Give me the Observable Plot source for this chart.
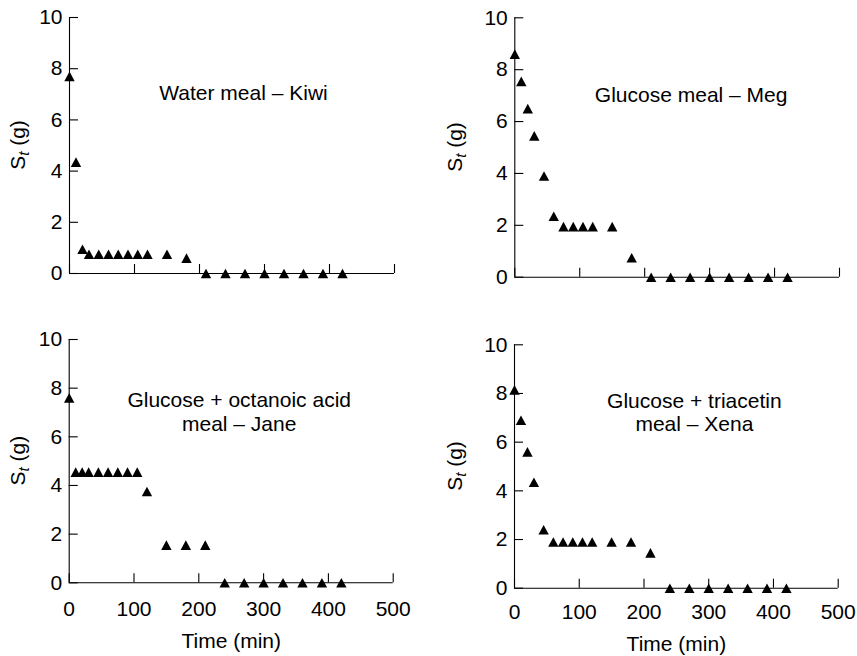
<!DOCTYPE html>
<html><head><meta charset="utf-8">
<script src="https://cdn.jsdelivr.net/npm/d3@7"></script>
<script src="https://cdn.jsdelivr.net/npm/@observablehq/plot@0.6"></script>
<style>
body{margin:0;background:#fff;}
#root{position:relative;width:857px;height:656px;overflow:hidden;font-family:"Liberation Sans",Arial,sans-serif;background:#fff;}
.panel{position:absolute;}
</style></head><body><div id="root"></div>
<script>
// ---- data ----
const times = [0,10,20,30,45,60,75,90,105,120,150,180,210,240,270,300,330,360,390,420];
const kiwi = [7.7,4.35,0.95,0.75,0.75,0.75,0.75,0.75,0.75,0.75,0.75,0.6,0,0,0,0,0,0,0,0];
const meg  = [8.6,7.55,6.5,5.45,3.9,2.35,1.95,1.95,1.95,1.95,1.95,0.75,0,0,0,0,0,0,0,0];
const jane = [7.6,4.55,4.55,4.55,4.55,4.55,4.55,4.55,4.55,3.75,1.55,1.55,1.55,0,0,0,0,0,0,0];
const xena = [8.15,6.9,5.6,4.35,2.4,1.9,1.9,1.9,1.9,1.9,1.9,1.9,1.45,0,0,0,0,0,0,0];
const titles = ["Water meal \u2013 Kiwi", "Glucose meal \u2013 Meg",
  "Glucose + octanoic acid\nmeal \u2013 Jane", "Glucose + triacetin\nmeal \u2013 Xena"];
const xTicks = [0,100,200,300,400,500];
const yTicks = [0,2,4,6,8,10];
const xLabel = "Time (min)";
const yLabelMain = "S", yLabelSub = "t", yLabelRest = " (g)";

// ---- layout (styling only) ----
const layout = [
  {series: kiwi, left: 0,   top: 0,   w: 428, h: 300, mL: 69,   mR: 34,   mT: 17,   mB: 27,   tdx: 11.5, tdy: 66,   yoff: 44,   xaxis: false},
  {series: meg,  left: 420, top: 0,   w: 437, h: 300, mL: 94.3, mR: 18,   mT: 17.3, mB: 23.3, tdx: 14,   tdy: 67.5, yoff: 52,   xaxis: false},
  {series: jane, left: 0,   top: 300, w: 420, h: 356, mL: 68.7, mR: 27.3, mT: 39,   mB: 73.7, tdx: 8,    tdy: 51.5, yoff: 43.7, xaxis: true, pad: 18.5, ldy: 50.5},
  {series: xena, left: 420, top: 300, w: 437, h: 356, mL: 94,   mR: 19.3, mT: 44.3, mB: 68.3, tdx: 18,   tdy: 46.5, yoff: 52.3, xaxis: true, pad: 15.5, ldy: 48}
];

const tri = {draw(ctx, size) {
  const r = Math.sqrt(size / Math.PI);
  const w = 1.3 * r, h = 1.2 * r;
  ctx.moveTo(0, -h); ctx.lineTo(w, h); ctx.lineTo(-w, h); ctx.closePath();
}};

const root = document.getElementById("root");
layout.forEach((L, i) => {
  const data = times.map((t, j) => ({t, v: L.series[j]}));
  const fw = L.w - L.mL - L.mR, fh = L.h - L.mT - L.mB;
  const marks = [
    Plot.ruleX([0], {stroke: "black", strokeWidth: 1.1}),
    Plot.ruleY([0], {stroke: "black", strokeWidth: 1.1}),
    Plot.tickY(yTicks, {y: d => d, insetRight: fw - 9, stroke: "black", strokeWidth: 1.1}),
    Plot.tickX(xTicks, {x: d => d, insetTop: fh - 9, stroke: "black", strokeWidth: 1.1}),
    Plot.axisY({ticks: yTicks, tickSize: 0, tickPadding: 7, label: null, fontSize: 21}),
    Plot.dot(data, {x: "t", y: "v", symbol: tri, r: 4, fill: "black", stroke: "none"}),
    Plot.text([titles[i]], {text: d => d, frameAnchor: "top", dx: L.tdx, dy: L.tdy, lineAnchor: "top", fontSize: 21, lineHeight: 1.1, fill: "black"})
  ];
  if (L.xaxis) {
    marks.push(Plot.axisX({ticks: xTicks, tickSize: 0, tickPadding: L.pad, label: null, fontSize: 21}));
    marks.push(Plot.text([xLabel], {text: d => d, frameAnchor: "bottom", dy: L.ldy, lineAnchor: "top", fontSize: 21, fill: "black"}));
  }
  const svg = Plot.plot({
    width: L.w, height: L.h,
    marginLeft: L.mL, marginRight: L.mR, marginTop: L.mT, marginBottom: L.mB,
    x: {domain: [0, 500], axis: L.xaxis ? undefined : null},
    y: {domain: [0, 10]},
    style: {fontFamily: "'Liberation Sans', Arial, sans-serif", fontSize: "21px", color: "black", background: "white", overflow: "visible"},
    marks
  });
  const cy = L.mT + fh / 2;
  const t = d3.select(svg).append("text")
    .attr("transform", `translate(${L.mL - L.yoff},${cy}) rotate(-90)`)
    .attr("text-anchor", "middle").attr("font-size", 21).attr("fill", "black")
    .attr("font-family", "'Liberation Sans', Arial, sans-serif");
  t.append("tspan").text(yLabelMain);
  t.append("tspan").attr("font-style", "italic").attr("font-size", 15).attr("dy", 4).text(yLabelSub);
  t.append("tspan").attr("dy", -4).text(yLabelRest);
  const div = document.createElement("div");
  div.className = "panel";
  div.style.left = L.left + "px"; div.style.top = L.top + "px";
  div.appendChild(svg);
  root.appendChild(div);
});
</script></body></html>
